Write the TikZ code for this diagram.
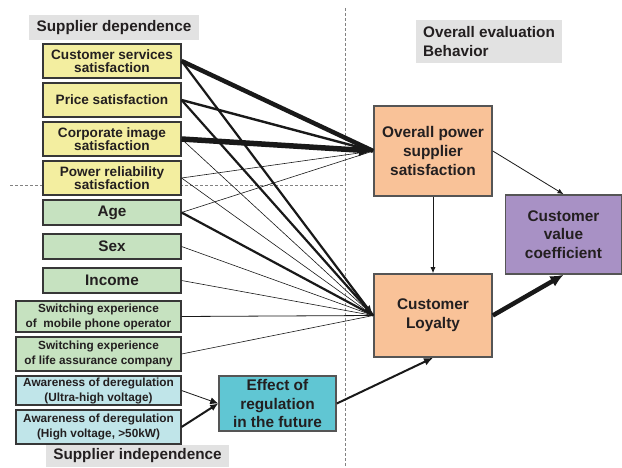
\documentclass[tikz,border=0pt]{standalone}
\usepackage{fontspec}
\setmainfont{Liberation Sans}
\usetikzlibrary{arrows.meta}
\definecolor{yel}{RGB}{243,238,160}
\definecolor{grn}{RGB}{198,226,192}
\definecolor{lblue}{RGB}{192,229,233}
\definecolor{tealb}{RGB}{96,198,211}
\definecolor{orng}{RGB}{249,194,152}
\definecolor{purp}{RGB}{168,145,197}
\definecolor{labg}{RGB}{226,226,226}
\definecolor{txt}{RGB}{35,31,32}
\definecolor{bord}{RGB}{55,55,55}
\definecolor{dashc}{RGB}{130,130,130}
\begin{document}
\begin{tikzpicture}[x=1pt,y=-1pt,
  box/.style={draw=bord,line width=1.1pt,inner sep=0pt,align=center,text=txt,
    font=\bfseries\fontsize{13.6}{12.8}\selectfont},
  mbox/.style={box,font=\bfseries\fontsize{15.3}{18}\selectfont},
  sbox/.style={box,font=\bfseries\fontsize{11.8}{15}\selectfont},
  bigbox/.style={draw=bord!85,line width=1.6pt,inner sep=0pt,align=center,text=txt,
    font=\bfseries\fontsize{15.4}{18.7}\selectfont},
  lbl/.style={fill=labg,inner sep=0pt,text=txt,font=\bfseries\fontsize{15.3}{19}\selectfont},
  thin/.style={line width=0.6pt,draw=black!90},
  thk/.style={line width=#1,draw=black!90},
  dsh/.style={draw=dashc,line width=0.8pt,dash pattern=on 3pt off 2pt}
]
\useasboundingbox (0,0) rectangle (622,468);

% dashed separators
\coordinate (vt) at (345,8);
\coordinate (vb) at (345,468);
\coordinate (hl) at (10,185);
\coordinate (hr) at (345,185);
\draw[dsh] (vt) -- (vb);
\draw[dsh] (hl) -- (hr);

% group labels
\node[lbl,minimum width=170pt,minimum height=25pt] (dep) at (114,27.5) {Supplier dependence};
\node[lbl,minimum width=183pt,minimum height=22pt] (indep) at (137.5,456) {Supplier independence};
\node[lbl,minimum height=43pt,minimum width=146pt,align=left] (ovl) at (489,41.5) {Overall evaluation\\Behavior};

% left boxes
\node[box,fill=yel,minimum width=138pt,minimum height=34pt] (cs) at (112,61) {Customer services\\satisfaction};
\node[box,fill=yel,minimum width=138pt,minimum height=34pt] (price) at (112,100) {Price satisfaction};
\node[box,fill=yel,minimum width=138pt,minimum height=34pt] (corp) at (112,139) {Corporate image\\satisfaction};
\node[box,fill=yel,minimum width=138pt,minimum height=34pt] (rel) at (112,178) {Power reliability\\satisfaction};
\node[mbox,fill=grn,minimum width=138pt,minimum height=25pt] (age) at (112,212.5) {Age};
\node[mbox,fill=grn,minimum width=138pt,minimum height=25pt] (sex) at (112,246.5) {Sex};
\node[mbox,fill=grn,minimum width=138pt,minimum height=25pt] (inc) at (112,280.5) {Income};
\node[sbox,fill=grn,minimum width=165pt,minimum height=31pt] (mob) at (98.5,316.5) {Switching experience\\of\ \ mobile phone operator};
\node[sbox,fill=grn,minimum width=165pt,minimum height=34pt] (life) at (98.5,354) {Switching experience\\of life assurance company};
\node[sbox,fill=lblue,minimum width=165pt,minimum height=29pt] (ultra) at (98.5,390.5) {Awareness of deregulation\\(Ultra-high voltage)};
\node[sbox,fill=lblue,minimum width=165pt,minimum height=34pt] (high) at (98.5,427) {Awareness of deregulation\\(High voltage, >50kW)};

% right boxes
\node[bigbox,fill=tealb,minimum width=117pt,minimum height=55pt] (eff) at (277.5,403.5) {Effect of\\regulation\\in the future};
\node[bigbox,fill=orng,minimum width=118pt,minimum height=90pt] (ovr) at (433,151) {Overall power\\supplier\\satisfaction};
\node[bigbox,fill=orng,minimum width=118pt,minimum height=83pt] (loy) at (433,315.5) {Customer\\Loyalty};
\node[bigbox,fill=purp,minimum width=116pt,minimum height=79pt] (val) at (563.5,234.5) {Customer\\value\\coefficient};

% thin connectors
\draw[thin] (corp.east) -- (loy.west);
\draw[thin] (rel.east) -- (ovr.west);
\draw[thin] (rel.east) -- (loy.west);
\draw[thin] (age.east) -- (ovr.west);
\draw[thin] (sex.east) -- (loy.west);
\draw[thin] (inc.east) -- (loy.west);
\draw[thk=0.8pt] (mob.east) -- (loy.west);
\draw[thin] (life.east) -- (loy.west);

% thick connectors
\draw[thk=2.2pt] (cs.east) -- (loy.west);
\draw[thk=2.2pt] (age.east) -- (loy.west);
\draw[thk=2.2pt,-{Latex[length=10pt,width=9pt]}] (price.east) -- (loy.west);
\draw[thk=2.4pt] (price.east) -- (ovr.west);
\draw[thk=4.5pt] (cs.east) -- (ovr.west);
\draw[thk=5.5pt,-{Latex[length=14pt,width=13pt]}] (corp.east) -- (ovr.west);

% regulation
\draw[thk=0.8pt,-{Latex[length=8pt,width=7pt]}] (ultra.east) -- (eff.west);
\draw[thk=2pt,-{Latex[length=8pt,width=7pt]}] (high.east) -- (eff.west);
\draw[thk=2pt,-{Latex[length=9pt,width=8pt]}] (eff.east) -- (loy.south);

% right side
\draw[thk=0.8pt,-{Latex[length=6pt,width=5pt]}] (ovr.east) -- (val.north);
\draw[thk=0.8pt,-{Latex[length=6pt,width=5pt]}] (ovr.south) -- (loy.north);
\draw[thk=4.5pt,-{Latex[length=13pt,width=12pt]}] (loy.east) -- (val.south);
\end{tikzpicture}
\end{document}
